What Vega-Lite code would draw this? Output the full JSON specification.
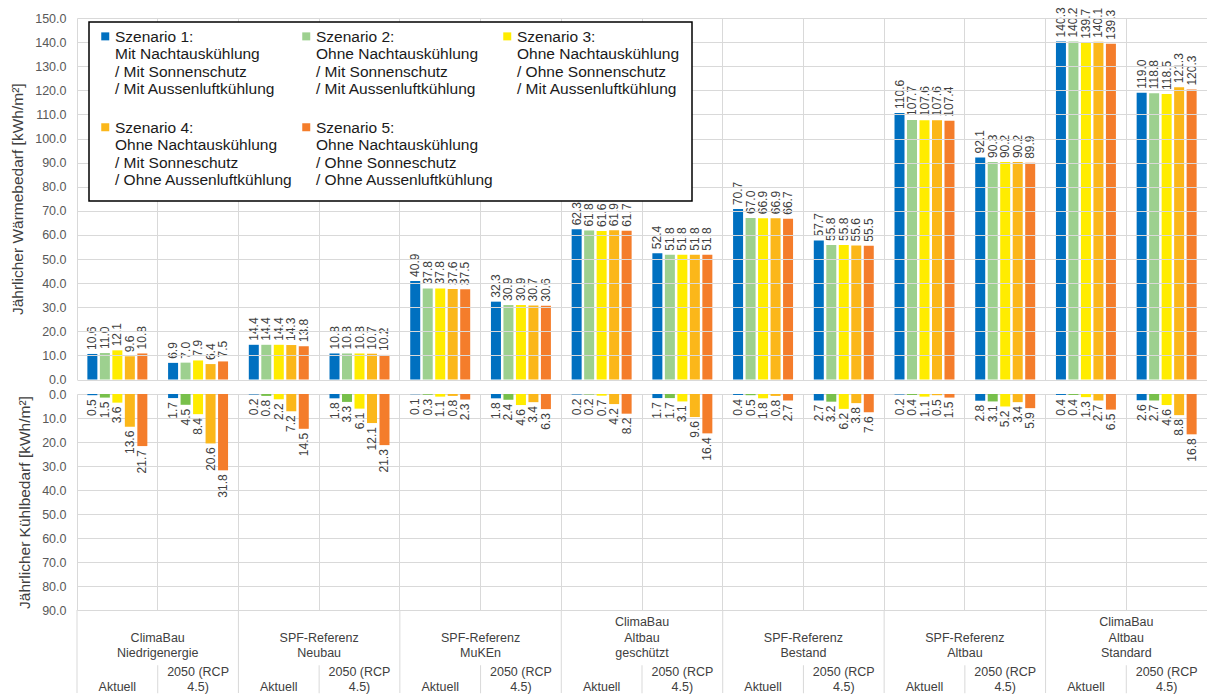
{
  "$schema": "https://vega.github.io/schema/vega-lite/v6.json",
  "padding": {"left": 10, "top": 7, "right": 0, "bottom": 0},
  "background": "white",
  "config": {
    "font": "Liberation Sans",
    "view": {"stroke": null},
    "axis": {"gridColor": "#D9D9D9", "gridWidth": 1, "domain": false, "ticks": false, "labelColor": "#595959", "labelFontSize": 12.5, "labelFont": "Liberation Sans", "titleFont": "Liberation Sans", "titleFontSize": 15.5, "titleFontWeight": "normal", "titleColor": "#404040"},
    "legend": {"strokeWidth": 1.5}
  },
  "datasets": {
    "bars": [
      {"col": "Niedrigenergie Aktuell", "s": "Szenario 1", "w": 10.6, "k": 0.5},
      {"col": "Niedrigenergie Aktuell", "s": "Szenario 2", "w": 11.0, "k": 1.5},
      {"col": "Niedrigenergie Aktuell", "s": "Szenario 3", "w": 12.1, "k": 3.6},
      {"col": "Niedrigenergie Aktuell", "s": "Szenario 4", "w": 9.6, "k": 13.6},
      {"col": "Niedrigenergie Aktuell", "s": "Szenario 5", "w": 10.8, "k": 21.7},
      {"col": "Niedrigenergie 2050", "s": "Szenario 1", "w": 6.9, "k": 1.7},
      {"col": "Niedrigenergie 2050", "s": "Szenario 2", "w": 7.0, "k": 4.5},
      {"col": "Niedrigenergie 2050", "s": "Szenario 3", "w": 7.9, "k": 8.4},
      {"col": "Niedrigenergie 2050", "s": "Szenario 4", "w": 6.4, "k": 20.6},
      {"col": "Niedrigenergie 2050", "s": "Szenario 5", "w": 7.5, "k": 31.8},
      {"col": "Neubau Aktuell", "s": "Szenario 1", "w": 14.4, "k": 0.2},
      {"col": "Neubau Aktuell", "s": "Szenario 2", "w": 14.4, "k": 0.8},
      {"col": "Neubau Aktuell", "s": "Szenario 3", "w": 14.4, "k": 2.2},
      {"col": "Neubau Aktuell", "s": "Szenario 4", "w": 14.3, "k": 7.2},
      {"col": "Neubau Aktuell", "s": "Szenario 5", "w": 13.8, "k": 14.5},
      {"col": "Neubau 2050", "s": "Szenario 1", "w": 10.8, "k": 1.8},
      {"col": "Neubau 2050", "s": "Szenario 2", "w": 10.8, "k": 3.3},
      {"col": "Neubau 2050", "s": "Szenario 3", "w": 10.8, "k": 6.1},
      {"col": "Neubau 2050", "s": "Szenario 4", "w": 10.7, "k": 12.1},
      {"col": "Neubau 2050", "s": "Szenario 5", "w": 10.2, "k": 21.3},
      {"col": "MuKEn Aktuell", "s": "Szenario 1", "w": 40.9, "k": 0.1},
      {"col": "MuKEn Aktuell", "s": "Szenario 2", "w": 37.8, "k": 0.3},
      {"col": "MuKEn Aktuell", "s": "Szenario 3", "w": 37.8, "k": 1.1},
      {"col": "MuKEn Aktuell", "s": "Szenario 4", "w": 37.6, "k": 0.8},
      {"col": "MuKEn Aktuell", "s": "Szenario 5", "w": 37.5, "k": 2.3},
      {"col": "MuKEn 2050", "s": "Szenario 1", "w": 32.3, "k": 1.8},
      {"col": "MuKEn 2050", "s": "Szenario 2", "w": 30.9, "k": 2.4},
      {"col": "MuKEn 2050", "s": "Szenario 3", "w": 30.9, "k": 4.6},
      {"col": "MuKEn 2050", "s": "Szenario 4", "w": 30.7, "k": 3.4},
      {"col": "MuKEn 2050", "s": "Szenario 5", "w": 30.6, "k": 6.3},
      {"col": "Altbau geschützt Aktuell", "s": "Szenario 1", "w": 62.3, "k": 0.2},
      {"col": "Altbau geschützt Aktuell", "s": "Szenario 2", "w": 61.8, "k": 0.2},
      {"col": "Altbau geschützt Aktuell", "s": "Szenario 3", "w": 61.6, "k": 0.7},
      {"col": "Altbau geschützt Aktuell", "s": "Szenario 4", "w": 61.9, "k": 4.2},
      {"col": "Altbau geschützt Aktuell", "s": "Szenario 5", "w": 61.7, "k": 8.2},
      {"col": "Altbau geschützt 2050", "s": "Szenario 1", "w": 52.4, "k": 1.7},
      {"col": "Altbau geschützt 2050", "s": "Szenario 2", "w": 51.8, "k": 1.7},
      {"col": "Altbau geschützt 2050", "s": "Szenario 3", "w": 51.8, "k": 3.1},
      {"col": "Altbau geschützt 2050", "s": "Szenario 4", "w": 51.8, "k": 9.6},
      {"col": "Altbau geschützt 2050", "s": "Szenario 5", "w": 51.8, "k": 16.4},
      {"col": "Bestand Aktuell", "s": "Szenario 1", "w": 70.7, "k": 0.4},
      {"col": "Bestand Aktuell", "s": "Szenario 2", "w": 67.0, "k": 0.5},
      {"col": "Bestand Aktuell", "s": "Szenario 3", "w": 66.9, "k": 1.8},
      {"col": "Bestand Aktuell", "s": "Szenario 4", "w": 66.9, "k": 0.8},
      {"col": "Bestand Aktuell", "s": "Szenario 5", "w": 66.7, "k": 2.7},
      {"col": "Bestand 2050", "s": "Szenario 1", "w": 57.7, "k": 2.7},
      {"col": "Bestand 2050", "s": "Szenario 2", "w": 55.8, "k": 3.2},
      {"col": "Bestand 2050", "s": "Szenario 3", "w": 55.8, "k": 6.2},
      {"col": "Bestand 2050", "s": "Szenario 4", "w": 55.6, "k": 3.8},
      {"col": "Bestand 2050", "s": "Szenario 5", "w": 55.5, "k": 7.6},
      {"col": "SPF Altbau Aktuell", "s": "Szenario 1", "w": 110.6, "k": 0.2},
      {"col": "SPF Altbau Aktuell", "s": "Szenario 2", "w": 107.7, "k": 0.4},
      {"col": "SPF Altbau Aktuell", "s": "Szenario 3", "w": 107.6, "k": 1.1},
      {"col": "SPF Altbau Aktuell", "s": "Szenario 4", "w": 107.6, "k": 0.5},
      {"col": "SPF Altbau Aktuell", "s": "Szenario 5", "w": 107.4, "k": 1.5},
      {"col": "SPF Altbau 2050", "s": "Szenario 1", "w": 92.1, "k": 2.8},
      {"col": "SPF Altbau 2050", "s": "Szenario 2", "w": 90.3, "k": 3.1},
      {"col": "SPF Altbau 2050", "s": "Szenario 3", "w": 90.2, "k": 5.2},
      {"col": "SPF Altbau 2050", "s": "Szenario 4", "w": 90.2, "k": 3.4},
      {"col": "SPF Altbau 2050", "s": "Szenario 5", "w": 89.9, "k": 5.9},
      {"col": "Altbau Standard Aktuell", "s": "Szenario 1", "w": 140.3, "k": 0.4},
      {"col": "Altbau Standard Aktuell", "s": "Szenario 2", "w": 140.2, "k": 0.4},
      {"col": "Altbau Standard Aktuell", "s": "Szenario 3", "w": 139.7, "k": 1.3},
      {"col": "Altbau Standard Aktuell", "s": "Szenario 4", "w": 140.1, "k": 2.7},
      {"col": "Altbau Standard Aktuell", "s": "Szenario 5", "w": 139.3, "k": 6.5},
      {"col": "Altbau Standard 2050", "s": "Szenario 1", "w": 119.0, "k": 2.6},
      {"col": "Altbau Standard 2050", "s": "Szenario 2", "w": 118.8, "k": 2.7},
      {"col": "Altbau Standard 2050", "s": "Szenario 3", "w": 118.5, "k": 4.6},
      {"col": "Altbau Standard 2050", "s": "Szenario 4", "w": 121.3, "k": 8.8},
      {"col": "Altbau Standard 2050", "s": "Szenario 5", "w": 120.3, "k": 16.8}
    ],
    "labels": [
      {"col": "Niedrigenergie Aktuell", "level": "Gebäude", "t": "\nClimaBau\nNiedrigenergie"},
      {"col": "Neubau Aktuell", "level": "Gebäude", "t": "\nSPF-Referenz\nNeubau"},
      {"col": "MuKEn Aktuell", "level": "Gebäude", "t": "\nSPF-Referenz\nMuKEn"},
      {"col": "Altbau geschützt Aktuell", "level": "Gebäude", "t": "ClimaBau\nAltbau\ngeschützt"},
      {"col": "Bestand Aktuell", "level": "Gebäude", "t": "\nSPF-Referenz\nBestand"},
      {"col": "SPF Altbau Aktuell", "level": "Gebäude", "t": "\nSPF-Referenz\nAltbau"},
      {"col": "Altbau Standard Aktuell", "level": "Gebäude", "t": "ClimaBau\nAltbau\nStandard"},
      {"col": "Niedrigenergie Aktuell", "level": "Periode", "t": "\nAktuell"},
      {"col": "Niedrigenergie 2050", "level": "Periode", "t": "2050 (RCP\n4.5)"},
      {"col": "Neubau Aktuell", "level": "Periode", "t": "\nAktuell"},
      {"col": "Neubau 2050", "level": "Periode", "t": "2050 (RCP\n4.5)"},
      {"col": "MuKEn Aktuell", "level": "Periode", "t": "\nAktuell"},
      {"col": "MuKEn 2050", "level": "Periode", "t": "2050 (RCP\n4.5)"},
      {"col": "Altbau geschützt Aktuell", "level": "Periode", "t": "\nAktuell"},
      {"col": "Altbau geschützt 2050", "level": "Periode", "t": "2050 (RCP\n4.5)"},
      {"col": "Bestand Aktuell", "level": "Periode", "t": "\nAktuell"},
      {"col": "Bestand 2050", "level": "Periode", "t": "2050 (RCP\n4.5)"},
      {"col": "SPF Altbau Aktuell", "level": "Periode", "t": "\nAktuell"},
      {"col": "SPF Altbau 2050", "level": "Periode", "t": "2050 (RCP\n4.5)"},
      {"col": "Altbau Standard Aktuell", "level": "Periode", "t": "\nAktuell"},
      {"col": "Altbau Standard 2050", "level": "Periode", "t": "2050 (RCP\n4.5)"}
    ]
  },
  "spacing": 14,
  "bounds": "flush",
  "resolve": {"scale": {"color": "independent"}, "legend": {"color": "independent"}},
  "vconcat": [
    {
      "width": 1130,
      "height": 361.5,
      "data": {"name": "bars"},
      "encoding": {
        "x": {"field": "col", "type": "nominal", "sort": null,
          "scale": {"domain": ["Niedrigenergie Aktuell", "Niedrigenergie 2050", "Neubau Aktuell", "Neubau 2050", "MuKEn Aktuell", "MuKEn 2050", "Altbau geschützt Aktuell", "Altbau geschützt 2050", "Bestand Aktuell", "Bestand 2050", "SPF Altbau Aktuell", "SPF Altbau 2050", "Altbau Standard Aktuell", "Altbau Standard 2050"], "paddingInner": 0, "paddingOuter": 0},
          "axis": {"title": null, "labels": false, "ticks": false, "domain": false, "grid": true, "bandPosition": 0, "zindex": -2}},
        "xOffset": {"field": "s", "type": "nominal", "scale": {"paddingInner": 0.2, "paddingOuter": 0.83}},
        "y": {"field": "w", "type": "quantitative",
          "scale": {"domain": [0, 150], "nice": false},
          "axis": {"title": "Jährlicher Wärmebedarf [kWh/m²]", "values": [0, 10, 20, 30, 40, 50, 60, 70, 80, 90, 100, 110, 120, 130, 140, 150], "format": ".1f", "labelPadding": 11, "titlePadding": 9, "zindex": -2}}
      },
      "layer": [
        {
          "mark": {"type": "bar"},
          "encoding": {
            "color": {"field": "s", "type": "nominal",
              "scale": {"domain": ["Szenario 1", "Szenario 2", "Szenario 3", "Szenario 4", "Szenario 5"], "range": ["#0070C0", "#9DD08F", "#FFEC00", "#FBB71A", "#F47D2B"]},
              "legend": {"orient": "none", "legendX": 12, "legendY": 4, "zindex": -1, "direction": "horizontal", "columns": 3, "gridAlign": "all", "title": null, "symbolType": "M-1,-2.375H1V-0.375H-1Z", "symbolSize": 64, "symbolStrokeWidth": 0, "symbolOffset": -3.5, "labelFontSize": 15.5, "labelFont": "Liberation Sans", "labelColor": "#1a1a1a", "labelLimit": 0, "labelOffset": 2, "labelBaseline": "alphabetic", "columnPadding": 9, "rowPadding": 22, "padding": 12, "strokeColor": "#000000", "fillColor": "#ffffff",
                "labelExpr": "{'Szenario 1': ['Szenario 1:', 'Mit Nachtauskühlung', '/ Mit Sonnenschutz', '/ Mit Aussenluftkühlung'], 'Szenario 2': ['Szenario 2:', 'Ohne Nachtauskühlung', '/ Mit Sonnenschutz', '/ Mit Aussenluftkühlung'], 'Szenario 3': ['Szenario 3:', 'Ohne Nachtauskühlung', '/ Ohne Sonnenschutz', '/ Mit Aussenluftkühlung'], 'Szenario 4': ['Szenario 4:', 'Ohne Nachtauskühlung', '/ Mit Sonneschutz', '/ Ohne Aussenluftkühlung'], 'Szenario 5': ['Szenario 5:', 'Ohne Nachtauskühlung', '/ Ohne Sonneschutz', '/ Ohne Aussenluftkühlung']}[datum.label]"}}
          }
        },
        {
          "mark": {"type": "text", "angle": 270, "align": "left", "baseline": "middle", "dx": 4, "fontSize": 12, "color": "#404040"},
          "encoding": {"text": {"field": "w", "type": "quantitative", "format": ".1f"}}
        }
      ]
    },
    {
      "spacing": 0,
      "bounds": "flush",
      "vconcat": [
        {
          "width": 1130,
          "height": 216,
          "data": {"name": "bars"},
          "encoding": {
            "x": {"field": "col", "type": "nominal", "sort": null,
              "scale": {"domain": ["Niedrigenergie Aktuell", "Niedrigenergie 2050", "Neubau Aktuell", "Neubau 2050", "MuKEn Aktuell", "MuKEn 2050", "Altbau geschützt Aktuell", "Altbau geschützt 2050", "Bestand Aktuell", "Bestand 2050", "SPF Altbau Aktuell", "SPF Altbau 2050", "Altbau Standard Aktuell", "Altbau Standard 2050"], "paddingInner": 0, "paddingOuter": 0},
              "axis": {"title": null, "labels": false, "ticks": false, "domain": false, "grid": true, "bandPosition": 0}},
            "xOffset": {"field": "s", "type": "nominal", "scale": {"paddingInner": 0.2, "paddingOuter": 0.83}},
            "y": {"field": "k", "type": "quantitative",
              "scale": {"domain": [0, 90], "nice": false, "reverse": true},
              "axis": {"title": "Jährlicher Kühlbedarf [kWh/m²]", "values": [0, 10, 20, 30, 40, 50, 60, 70, 80, 90], "format": ".1f", "labelPadding": 11, "titlePadding": 9}}
          },
          "layer": [
            {
              "mark": {"type": "bar"},
              "encoding": {
                "color": {"field": "s", "type": "nominal",
                  "scale": {"domain": ["Szenario 1", "Szenario 2", "Szenario 3", "Szenario 4", "Szenario 5"], "range": ["#0070C0", "#78C04B", "#FFEC00", "#FBB71A", "#F47D2B"]},
                  "legend": null}
              }
            },
            {
              "mark": {"type": "text", "angle": 270, "align": "right", "baseline": "middle", "dx": -4, "fontSize": 12, "color": "#404040"},
              "encoding": {"text": {"field": "k", "type": "quantitative", "format": ".1f"}}
            }
          ]
        },
        {
          "width": 1130,
          "height": 83,
          "data": {"name": "labels"},
          "layer": [
            {
              "transform": [{"filter": "datum.level === 'Gebäude'"}],
              "mark": {"type": "rule", "color": "#D9D9D9", "strokeWidth": 1},
              "encoding": {
                "x": {"field": "col", "type": "nominal", "bandPosition": 0,
                  "scale": {"domain": ["Niedrigenergie Aktuell", "Niedrigenergie 2050", "Neubau Aktuell", "Neubau 2050", "MuKEn Aktuell", "MuKEn 2050", "Altbau geschützt Aktuell", "Altbau geschützt 2050", "Bestand Aktuell", "Bestand 2050", "SPF Altbau Aktuell", "SPF Altbau 2050", "Altbau Standard Aktuell", "Altbau Standard 2050"], "paddingInner": 0, "paddingOuter": 0},
                  "axis": null}
              }
            },
            {
              "transform": [{"filter": "datum.level === 'Periode' && indexof(datum.t, '2050') === 0"}],
              "mark": {"type": "tick", "orient": "vertical", "color": "#D9D9D9", "thickness": 1, "size": 28, "yOffset": 7, "opacity": 1},
              "encoding": {
                "x": {"field": "col", "type": "nominal", "bandPosition": 0, "axis": null},
                "y": {"field": "level", "type": "nominal", "scale": {"domain": ["Gebäude", "Periode"], "paddingInner": 0, "paddingOuter": 0}, "axis": null}
              }
            },
            {
              "transform": [{"filter": "datum.level === 'Gebäude'"}],
              "mark": {"type": "text", "align": "center", "baseline": "top", "lineBreak": "\n", "lineHeight": 15.5, "dy": 6, "fontSize": 12.5, "color": "#404040"},
              "encoding": {
                "x": {"field": "col", "type": "nominal", "bandPosition": 1, "axis": null},
                "y": {"field": "level", "type": "nominal", "bandPosition": 0, "axis": null},
                "text": {"field": "t", "type": "nominal"}
              }
            },
            {
              "transform": [{"filter": "datum.level === 'Periode'"}],
              "mark": {"type": "text", "align": "center", "baseline": "top", "lineBreak": "\n", "lineHeight": 15.5, "dy": 14, "fontSize": 12.5, "color": "#404040"},
              "encoding": {
                "x": {"field": "col", "type": "nominal", "axis": null},
                "y": {"field": "level", "type": "nominal", "bandPosition": 0, "axis": null},
                "text": {"field": "t", "type": "nominal"}
              }
            }
          ]
        }
      ]
    }
  ]
}
